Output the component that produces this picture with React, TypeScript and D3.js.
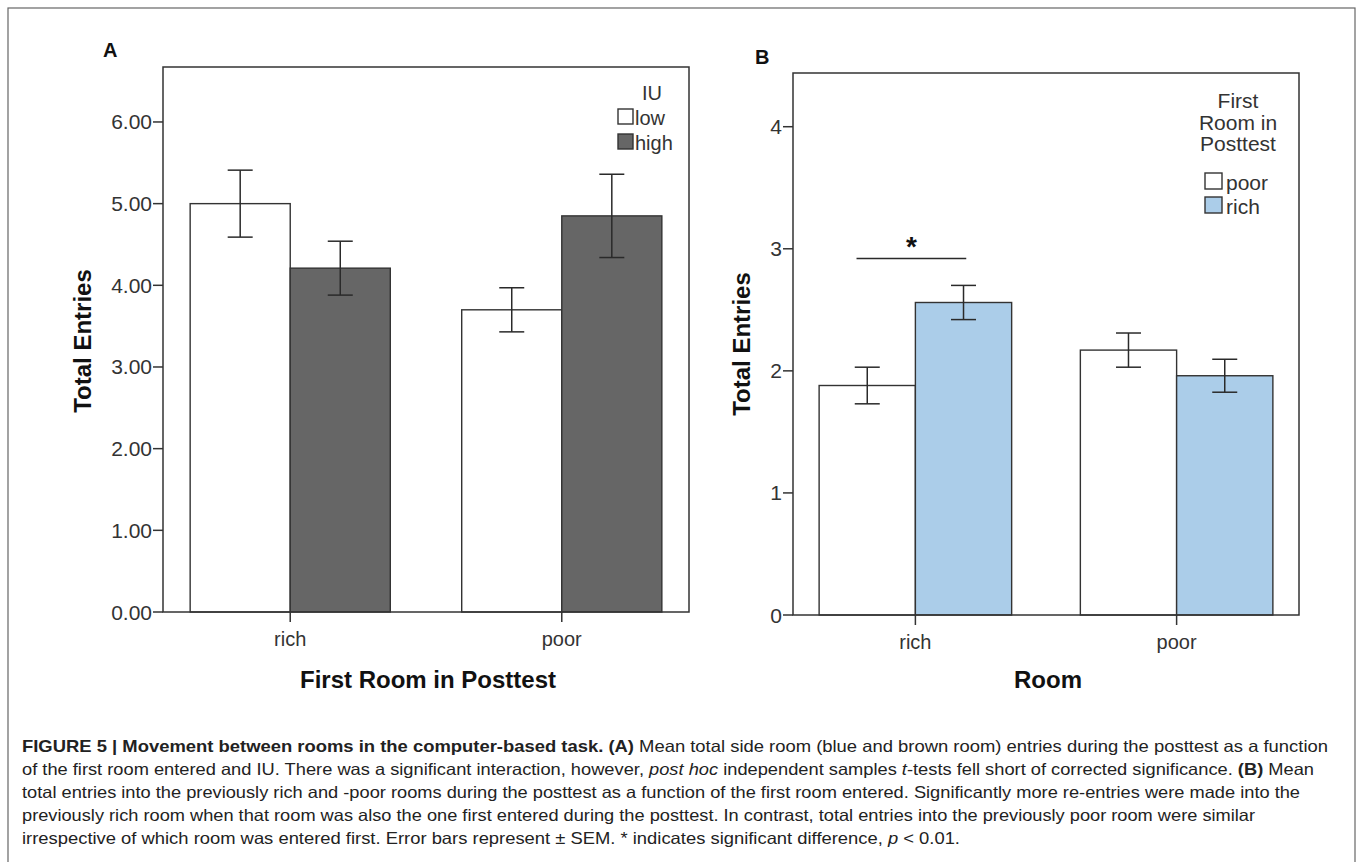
import React from 'react';
import * as d3 from 'd3';

const W = 1362;
const H = 862;

// Panel A: entries by first room in posttest and IU group
const roomsA = ['rich', 'poor'];
const iuLevels = ['low', 'high'];
const meanLowIU = [5.0, 3.7];
const semLowIU = [0.41, 0.27];
const meanHighIU = [4.21, 4.85];
const semHighIU = [0.33, 0.51];
const ticksA = [0, 1, 2, 3, 4, 5, 6];

// Panel B: entries by room and first room in posttest
const roomsB = ['rich', 'poor'];
const firstRoomLevels = ['poor', 'rich'];
const meanFirstPoor = [1.88, 2.17];
const semFirstPoor = [0.15, 0.14];
const meanFirstRich = [2.56, 1.96];
const semFirstRich = [0.14, 0.135];
const ticksB = [0, 1, 2, 3, 4];
const sigLevel = 2.92;

const captionLines: { t: string; s?: 'b' | 'i' }[][] = [
  [
    { t: 'FIGURE 5 | Movement between rooms in the computer-based task. (A)', s: 'b' },
    { t: ' Mean total side room (blue and brown room) entries during the posttest as a function' },
  ],
  [
    { t: 'of the first room entered and IU. There was a significant interaction, however, ' },
    { t: 'post hoc', s: 'i' },
    { t: ' independent samples ' },
    { t: 't', s: 'i' },
    { t: '-tests fell short of corrected significance. ' },
    { t: '(B)', s: 'b' },
    { t: ' Mean' },
  ],
  [
    { t: 'total entries into the previously rich and -poor rooms during the posttest as a function of the first room entered. Significantly more re-entries were made into the' },
  ],
  [
    { t: 'previously rich room when that room was also the one first entered during the posttest. In contrast, total entries into the previously poor room were similar' },
  ],
  [
    { t: 'irrespective of which room was entered first. Error bars represent \u00b1 SEM. * indicates significant difference, ' },
    { t: 'p', s: 'i' },
    { t: ' < 0.01.' },
  ],
];
const captionWidths = [1306, 1292, 1278, 1233, 938];

const FONT = '"Liberation Sans", Arial, sans-serif';
const INK = '#2a2a2a';

interface PanelProps {
  left: number;
  right: number;
  top: number;
  bottom: number;
  yMax: number;
  rooms: string[];
  groups: string[];
  means: number[][];
  sems: number[][];
  fills: string[];
  ticks: number[];
  fmt: (v: number) => string;
}

function BarPanel(p: PanelProps) {
  const x = d3.scaleBand<string>().domain(p.rooms).range([p.left, p.right]).paddingInner(0.263).paddingOuter(0.1);
  const xg = d3.scaleBand<string>().domain(p.groups).range([0, x.bandwidth()]);
  const y = d3.scaleLinear().domain([0, p.yMax]).range([p.bottom, p.top]);
  const cap = 12.5;
  return (
    <g>
      {p.rooms.map((room, ri) =>
        p.groups.map((grp, gi) => {
          const bx = (x(room) as number) + (xg(grp) as number);
          const m = p.means[gi][ri];
          const s = p.sems[gi][ri];
          const cx = bx + xg.bandwidth() / 2;
          return (
            <g key={room + grp}>
              <rect x={bx} y={y(m)} width={xg.bandwidth()} height={y(0) - y(m)}
                fill={p.fills[gi]} stroke="#333" strokeWidth={1.4} />
              <line x1={cx} x2={cx} y1={y(m + s)} y2={y(m - s)} stroke={INK} strokeWidth={1.5} />
              <line x1={cx - cap} x2={cx + cap} y1={y(m + s)} y2={y(m + s)} stroke={INK} strokeWidth={1.5} />
              <line x1={cx - cap} x2={cx + cap} y1={y(m - s)} y2={y(m - s)} stroke={INK} strokeWidth={1.5} />
            </g>
          );
        })
      )}
      <rect x={p.left} y={p.top} width={p.right - p.left} height={p.bottom - p.top}
        fill="none" stroke="#333" strokeWidth={1.5} />
      {p.ticks.map((t) => (
        <g key={t}>
          <line x1={p.left - 10} x2={p.left} y1={y(t)} y2={y(t)} stroke="#333" strokeWidth={1.5} />
          <text x={p.left - 11} y={y(t) + 7.5} textAnchor="end" fontSize={21} fill="#333" fontFamily={FONT}>
            {p.fmt(t)}
          </text>
        </g>
      ))}
      {p.rooms.map((room) => {
        const cx = (x(room) as number) + x.bandwidth() / 2;
        return (
          <g key={room}>
            <line x1={cx} x2={cx} y1={p.bottom} y2={p.bottom + 10} stroke="#333" strokeWidth={1.5} />
            <text x={cx} y={p.bottom + 34} textAnchor="middle" fontSize={20} fill="#333" fontFamily={FONT}>
              {room}
            </text>
          </g>
        );
      })}
    </g>
  );
}

export default function App() {
  // panel B geometry for the significance marker
  const xB = d3.scaleBand<string>().domain(roomsB).range([793, 1299]).paddingInner(0.263).paddingOuter(0.1);
  const yB = d3.scaleLinear().domain([0, 4.44]).range([615, 73]);
  const sigCenter = (xB('rich') as number) + xB.bandwidth() / 2 - 4;
  const sigHalf = xB.bandwidth() * 0.285;

  return (
    <div style={{ position: 'absolute', left: 0, top: 0, width: W, height: H, background: '#fff' }}>
      <svg width={W} height={H} viewBox={`0 0 ${W} ${H}`} style={{ display: 'block' }}>
        <rect x={0} y={0} width={W} height={H} fill="#fff" />
        <rect x={8} y={8} width={1347} height={880} fill="none" stroke="#666" strokeWidth={1.2} />

        {/* Panel A */}
        <text x={103} y={57} fontSize={20} fontWeight="bold" fontFamily={FONT} fill="#111">A</text>
        <BarPanel left={163} right={689} top={67} bottom={612} yMax={6.673}
          rooms={roomsA} groups={iuLevels} means={[meanLowIU, meanHighIU]} sems={[semLowIU, semHighIU]}
          fills={['#ffffff', '#666666']} ticks={ticksA} fmt={(v) => v.toFixed(2)} />
        <text transform="translate(91,341) rotate(-90)" textAnchor="middle" fontSize={24} fontWeight="bold"
          fontFamily={FONT} fill="#111">Total Entries</text>
        <text x={428} y={688} textAnchor="middle" fontSize={24} fontWeight="bold" fontFamily={FONT} fill="#111">
          First Room in Posttest
        </text>
        {/* Legend A */}
        <text x={652} y={100} textAnchor="middle" fontSize={20} fontFamily={FONT} fill="#333">IU</text>
        {iuLevels.map((lv, i) => (
          <g key={lv}>
            <rect x={618} y={109 + i * 25} width={15} height={15} fill={i === 0 ? '#fff' : '#666'}
              stroke="#333" strokeWidth={1.4} />
            <text x={635} y={125 + i * 25} fontSize={20} fontFamily={FONT} fill="#333">{lv}</text>
          </g>
        ))}

        {/* Panel B */}
        <text x={755} y={64} fontSize={20} fontWeight="bold" fontFamily={FONT} fill="#111">B</text>
        <BarPanel left={793} right={1299} top={73} bottom={615} yMax={4.44}
          rooms={roomsB} groups={firstRoomLevels} means={[meanFirstPoor, meanFirstRich]}
          sems={[semFirstPoor, semFirstRich]} fills={['#ffffff', '#abcde9']} ticks={ticksB}
          fmt={(v) => String(v)} />
        <text transform="translate(750,344) rotate(-90)" textAnchor="middle" fontSize={24} fontWeight="bold"
          fontFamily={FONT} fill="#111">Total Entries</text>
        <text x={1048} y={688} textAnchor="middle" fontSize={24} fontWeight="bold" fontFamily={FONT} fill="#111">
          Room
        </text>
        <line x1={sigCenter - sigHalf} x2={sigCenter + sigHalf} y1={yB(sigLevel)} y2={yB(sigLevel)}
          stroke={INK} strokeWidth={1.5} />
        <text x={sigCenter} y={yB(sigLevel) - 3} textAnchor="middle" fontSize={28} fontWeight="bold"
          fontFamily={FONT} fill="#111">*</text>
        {/* Legend B */}
        {['First', 'Room in', 'Posttest'].map((t, i) => (
          <text key={t} x={1238} y={108 + i * 21.5} textAnchor="middle" fontSize={21} fontFamily={FONT} fill="#333">
            {t}
          </text>
        ))}
        {firstRoomLevels.map((lv, i) => (
          <g key={lv}>
            <rect x={1205} y={173 + i * 24} width={17} height={16} fill={i === 0 ? '#fff' : '#abcde9'}
              stroke="#333" strokeWidth={1.4} />
            <text x={1226} y={190 + i * 24} fontSize={21} fontFamily={FONT} fill="#333">{lv}</text>
          </g>
        ))}

        {/* Caption */}
        {captionLines.map((segs, i) => (
          <text key={i} x={22} y={752 + i * 23} fontSize={16.5} fontFamily={FONT} fill="#222"
            textLength={captionWidths[i]} lengthAdjust="spacingAndGlyphs">
            {segs.map((sg, j) => (
              <tspan key={j} fontWeight={sg.s === 'b' ? 'bold' : undefined}
                fontStyle={sg.s === 'i' ? 'italic' : undefined}>{sg.t}</tspan>
            ))}
          </text>
        ))}
      </svg>
    </div>
  );
}
